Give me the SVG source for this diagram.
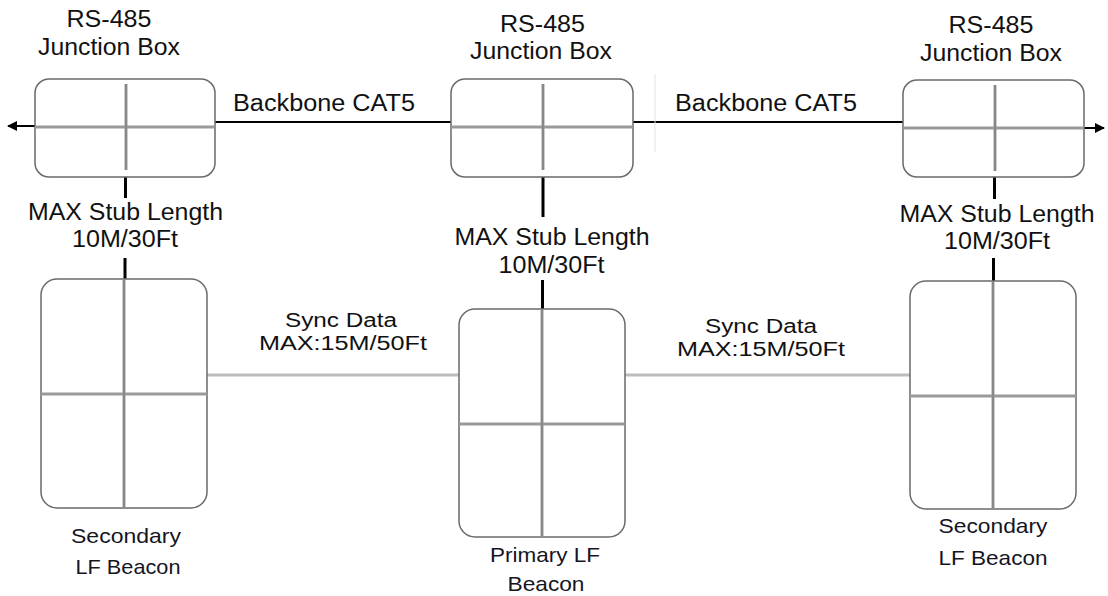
<svg xmlns="http://www.w3.org/2000/svg" width="1108" height="596" viewBox="0 0 1108 596">
<style>
text{font-family:"Liberation Sans",Arial,sans-serif;fill:#111;text-anchor:middle}
.lbl{font-size:23px}
.syn{font-size:20px}
.sub{font-size:21px;fill:#15151f}
.box{fill:#fff;stroke:#6a6a6a;stroke-width:1.5}
.cross{stroke:#9a9a9a;stroke-width:3;fill:none}
.crossc{stroke:#777;stroke-width:1;fill:none}
.bb{stroke:#000;stroke-width:2;fill:none}
.stub{stroke:#000;stroke-width:3;fill:none}
.sync{stroke:#bdbdbd;stroke-width:3;fill:none}
</style>
<defs>
<marker id="ah" viewBox="0 0 10 10" refX="9" refY="5" markerWidth="10" markerHeight="10" markerUnits="userSpaceOnUse" orient="auto">
<path d="M0,0 L10,5 L0,10 z" fill="#000"/>
</marker>
</defs>
<rect width="1108" height="596" fill="#fff"/>

<g id="connectors">
<line class="bb" x1="35" y1="126" x2="8" y2="126" marker-end="url(#ah)"/>
<line class="bb" x1="215" y1="122" x2="451" y2="122"/>
<line class="bb" x1="633" y1="122" x2="903" y2="122"/>
<line class="bb" x1="1084" y1="128" x2="1104" y2="128" marker-end="url(#ah)"/>
<line x1="655" y1="74" x2="655" y2="152" stroke="#e2e2e2" stroke-width="1"/>
<line class="stub" x1="125.5" y1="177" x2="125.5" y2="198"/>
<line class="stub" x1="125" y1="258" x2="125" y2="279"/>
<line class="stub" x1="543" y1="177" x2="543" y2="217"/>
<line class="stub" x1="542.5" y1="280" x2="542.5" y2="309"/>
<line class="stub" x1="994.5" y1="177" x2="994.5" y2="199"/>
<line class="stub" x1="993.5" y1="258" x2="993.5" y2="281"/>
<line class="sync" x1="207" y1="375" x2="459" y2="375"/>
<line class="sync" x1="625" y1="375" x2="910" y2="375"/>
<text class="lbl" x="324" y="111" textLength="182" lengthAdjust="spacingAndGlyphs">Backbone CAT5</text>
<text class="lbl" x="766" y="111" textLength="182" lengthAdjust="spacingAndGlyphs">Backbone CAT5</text>
<text class="lbl" x="125.5" y="220" textLength="195" lengthAdjust="spacingAndGlyphs">MAX Stub Length</text>
<text class="lbl" x="125" y="247" textLength="106" lengthAdjust="spacingAndGlyphs">10M/30Ft</text>
<text class="lbl" x="552" y="245" textLength="195" lengthAdjust="spacingAndGlyphs">MAX Stub Length</text>
<text class="lbl" x="551.5" y="273" textLength="106" lengthAdjust="spacingAndGlyphs">10M/30Ft</text>
<text class="lbl" x="997" y="222" textLength="195" lengthAdjust="spacingAndGlyphs">MAX Stub Length</text>
<text class="lbl" x="997" y="249" textLength="106" lengthAdjust="spacingAndGlyphs">10M/30Ft</text>
<text class="syn" x="341" y="327" textLength="112" lengthAdjust="spacingAndGlyphs">Sync Data</text>
<text class="syn" x="343" y="350" textLength="168" lengthAdjust="spacingAndGlyphs">MAX:15M/50Ft</text>
<text class="syn" x="761" y="333" textLength="112" lengthAdjust="spacingAndGlyphs">Sync Data</text>
<text class="syn" x="761" y="356" textLength="168" lengthAdjust="spacingAndGlyphs">MAX:15M/50Ft</text>
</g>

<g id="jb-left">
<text class="lbl" x="109" y="27" textLength="85" lengthAdjust="spacingAndGlyphs">RS-485</text>
<text class="lbl" x="109" y="55" textLength="142" lengthAdjust="spacingAndGlyphs">Junction Box</text>
<rect class="box" x="35" y="79" width="180" height="98" rx="14"/>
<line class="cross" x1="35" y1="127" x2="215" y2="127"/>
<line class="cross" x1="126" y1="84" x2="126" y2="170"/>
<line class="crossc" x1="126" y1="84" x2="126" y2="170"/>
</g>

<g id="jb-middle">
<text class="lbl" x="542.5" y="32" textLength="85" lengthAdjust="spacingAndGlyphs">RS-485</text>
<text class="lbl" x="541" y="59" textLength="142" lengthAdjust="spacingAndGlyphs">Junction Box</text>
<rect class="box" x="451" y="79" width="182" height="98" rx="14"/>
<line class="cross" x1="451" y1="127" x2="633" y2="127"/>
<line class="cross" x1="543" y1="84" x2="543" y2="170"/>
<line class="crossc" x1="543" y1="84" x2="543" y2="170"/>
</g>

<g id="jb-right">
<text class="lbl" x="991" y="33" textLength="85" lengthAdjust="spacingAndGlyphs">RS-485</text>
<text class="lbl" x="991" y="61" textLength="142" lengthAdjust="spacingAndGlyphs">Junction Box</text>
<rect class="box" x="903" y="80" width="181" height="97" rx="14"/>
<line class="cross" x1="903" y1="128" x2="1084" y2="128"/>
<line class="cross" x1="995" y1="85" x2="995" y2="171"/>
<line class="crossc" x1="995" y1="85" x2="995" y2="171"/>
</g>

<g id="beacon-left">
<rect class="box" x="41" y="279" width="166" height="229" rx="16"/>
<line class="cross" x1="41" y1="394" x2="207" y2="394"/>
<line class="cross" x1="124" y1="279" x2="124" y2="508"/>
<line class="crossc" x1="124" y1="279" x2="124" y2="508"/>
<text class="sub" x="126" y="543" textLength="110" lengthAdjust="spacingAndGlyphs">Secondary</text>
<text class="sub" x="128" y="574" textLength="105" lengthAdjust="spacingAndGlyphs">LF Beacon</text>
</g>

<g id="beacon-primary">
<rect class="box" x="459" y="309" width="166" height="228" rx="16"/>
<line class="cross" x1="459" y1="424" x2="625" y2="424"/>
<line class="cross" x1="542" y1="309" x2="542" y2="537"/>
<line class="crossc" x1="542" y1="309" x2="542" y2="537"/>
<text class="sub" x="545" y="562" textLength="110" lengthAdjust="spacingAndGlyphs">Primary LF</text>
<text class="sub" x="546" y="591" textLength="77" lengthAdjust="spacingAndGlyphs">Beacon</text>
</g>

<g id="beacon-right">
<rect class="box" x="910" y="281" width="166" height="228" rx="16"/>
<line class="cross" x1="910" y1="396" x2="1076" y2="396"/>
<line class="cross" x1="993" y1="281" x2="993" y2="509"/>
<line class="crossc" x1="993" y1="281" x2="993" y2="509"/>
<text class="sub" x="993" y="533" textLength="109" lengthAdjust="spacingAndGlyphs">Secondary</text>
<text class="sub" x="993" y="565" textLength="109" lengthAdjust="spacingAndGlyphs">LF Beacon</text>
</g>
</svg>
